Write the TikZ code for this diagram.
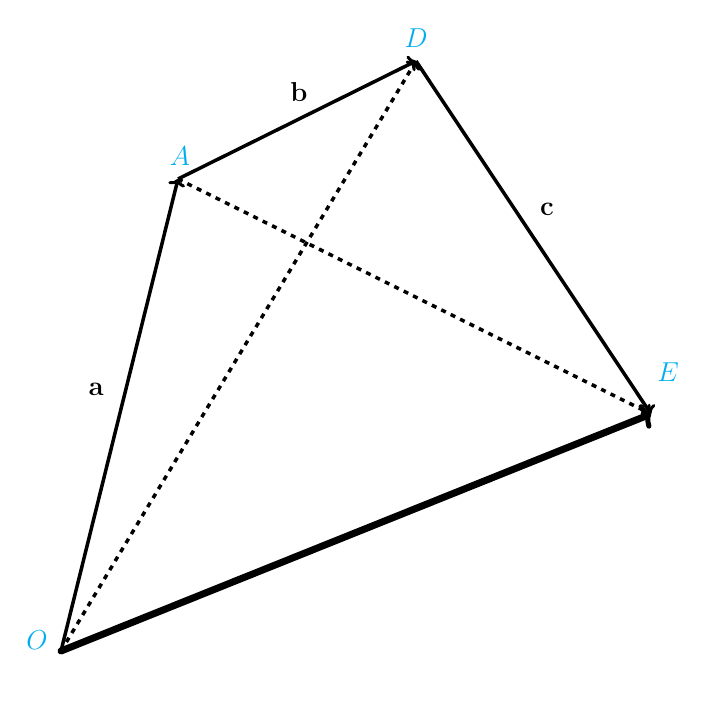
\documentclass[tikz,border=0pt]{standalone}
\usetikzlibrary{arrows.meta}
\definecolor{ptcol}{RGB}{0,174,239}
\newcommand{\biglab}[1]{\scalebox{1.1}{$#1$}}
\begin{document}
\begin{tikzpicture}[x=1pt,y=-1pt,
  vec/.style={line width=3.5pt,-{Computer Modern Rightarrow[length=7pt,width=17pt,line width=3pt]}},
  bigvec/.style={line width=7pt,-{Computer Modern Rightarrow[length=9pt,width=26pt,line width=5pt]}},
  dvec/.style={line width=3.5pt,dash pattern=on 5pt off 5.5pt,-{Computer Modern Rightarrow[length=7pt,width=17pt,line width=3pt]}},
  ptlab/.style={text=ptcol,font=\fontsize{24.88}{30}\selectfont},
  veclab/.style={font=\fontsize{24.88}{30}\selectfont}]
\useasboundingbox (0,0) rectangle (713,713);
\coordinate (O) at (61,651);
\coordinate (A) at (178,179);
\coordinate (D) at (416,61);
\coordinate (E) at (651,414);
\draw[dvec] (O) -- (D);
\draw[dvec] (A) -- (E);
\draw[vec] (O) -- (A);
\draw[vec] (A) -- (D);
\draw[vec] (D) -- (E);
\draw[bigvec,line cap=round] (O) -- (E);
\node[ptlab] (lO) at (37,640) {\biglab{O}};
\node[ptlab] (lA) at (180,156) {\biglab{A}};
\node[ptlab] (lD) at (416,38) {\biglab{D}};
\node[ptlab] (lE) at (668,372) {\biglab{E}};
\node[veclab] (la) at (96,389) {\biglab{\mathbf{a}}};
\node[veclab] (lb) at (299,92) {\biglab{\mathbf{b}}};
\node[veclab] (lc) at (547,209) {\biglab{\mathbf{c}}};
\end{tikzpicture}
\end{document}
